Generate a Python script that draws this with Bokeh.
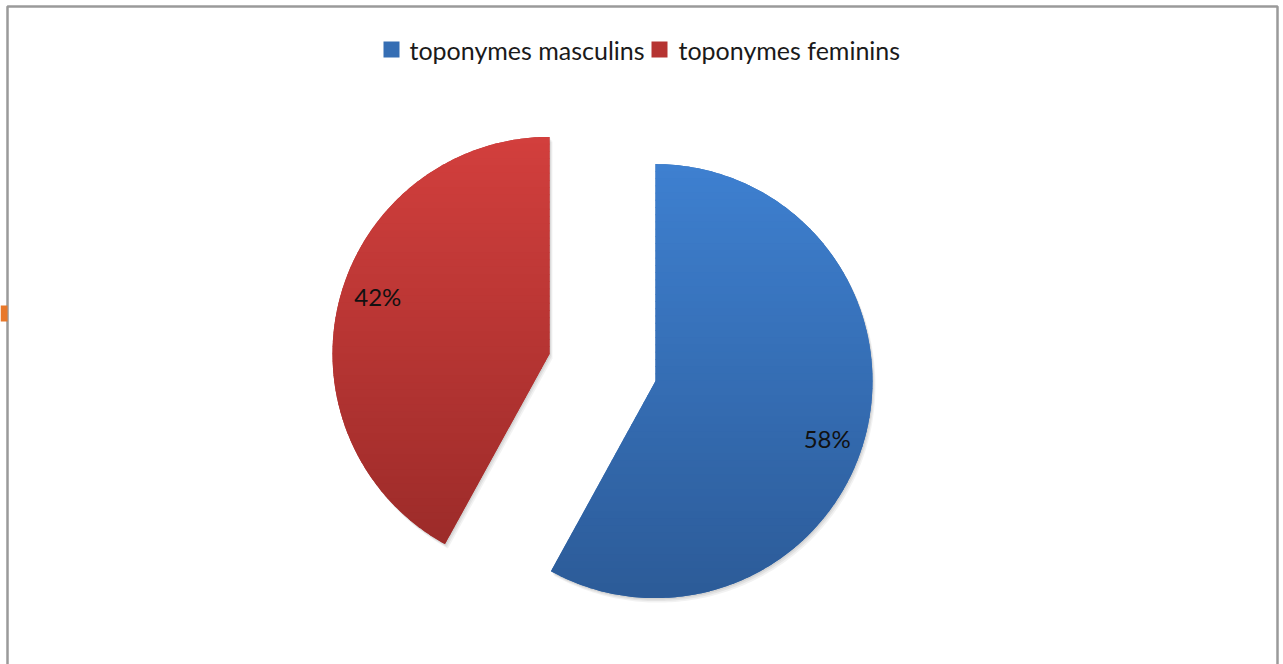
import numpy as np
from bokeh.plotting import figure
from bokeh.models import Range1d
from bokeh.core.properties import value
from bokeh.embed import file_html
from bokeh.resources import INLINE

# ---- data ----
categories = ["toponymes masculins", "toponymes feminins"]
shares = [58, 42]
pct_labels = ["58%", "42%"]
top_colors = ["#3e80d0", "#d23f3d"]
bottom_colors = ["#2c5b98", "#992a28"]

# ---- style / layout ----
W, H = 1283, 664
ORIGIN = (602.0, H - 367.0)
R = 217.0
EXPLODE = 54.7
LABEL_R = 181.0
FONT = "Lato"

p = figure(width=W, height=H, x_range=Range1d(0, W), y_range=Range1d(0, H),
           output_backend="svg", toolbar_location=None, min_border=0)
p.axis.visible = False
p.grid.visible = False
p.outline_line_color = None
p.background_fill_color = "white"
p.border_fill_color = "white"


def hex2rgb(h):
    h = h.lstrip("#")
    return np.array([int(h[i:i + 2], 16) for i in (0, 2, 4)], dtype=float)


def rgb2hex(c):
    return "#%02x%02x%02x" % tuple(int(round(v)) for v in c)


def clip(poly, yv, keep_below):
    out = []
    n = len(poly)
    inside = (lambda pt: pt[1] <= yv) if keep_below else (lambda pt: pt[1] >= yv)
    for i in range(n):
        P, Q = poly[i - 1], poly[i]
        ip, iq = inside(P), inside(Q)
        if iq:
            if not ip:
                t = (yv - P[1]) / (Q[1] - P[1])
                out.append((P[0] + t * (Q[0] - P[0]), yv))
            out.append(Q)
        elif ip:
            t = (yv - P[1]) / (Q[1] - P[1])
            out.append((P[0] + t * (Q[0] - P[0]), yv))
    return out


total = float(sum(shares))
cum = 0.0
slices = []
for k, s in enumerate(shares):
    a0 = np.pi / 2 - 2 * np.pi * cum / total
    cum += s
    a1 = np.pi / 2 - 2 * np.pi * cum / total
    mid = (a0 + a1) / 2
    cx = ORIGIN[0] + EXPLODE * np.cos(mid)
    cy = ORIGIN[1] + EXPLODE * np.sin(mid)
    angs = np.linspace(a0, a1, 240)
    poly = [(cx, cy)] + [(cx + R * np.cos(a), cy + R * np.sin(a)) for a in angs]
    slices.append((k, cx, cy, mid, poly))

# soft shadow
for off, alpha in [((1.0, -1.5), 0.07), ((2.0, -3.0), 0.06), ((3.0, -4.5), 0.05)]:
    for k, cx, cy, mid, poly in slices:
        p.patch([q[0] + off[0] for q in poly], [q[1] + off[1] for q in poly],
                fill_color="black", fill_alpha=alpha, line_color=None)

# slices with vertical gradient
NB = 60
for k, cx, cy, mid, poly in slices:
    ctop, cbot = hex2rgb(top_colors[k]), hex2rgb(bottom_colors[k])
    base = rgb2hex((ctop + cbot) / 2)
    p.patch([q[0] for q in poly], [q[1] for q in poly], fill_color=base, line_color=None)
    ymax, ymin = cy + R, cy - R
    xs, ys, cols = [], [], []
    for j in range(NB):
        yhi = ymax - j * (ymax - ymin) / NB + 0.4
        ylo = ymax - (j + 1) * (ymax - ymin) / NB - 0.4
        b = clip(poly, yhi, True)
        if len(b) < 3:
            continue
        b = clip(b, ylo, False)
        if len(b) < 3:
            continue
        t = (j + 0.5) / NB
        xs.append([q[0] for q in b])
        ys.append([q[1] for q in b])
        cols.append(rgb2hex(ctop + (cbot - ctop) * t))
    p.patches(xs, ys, fill_color=cols, line_color=None)

# percentage labels
lx, ly = [], []
for k, cx, cy, mid, poly in slices:
    a = mid - np.radians(4)
    lx.append(cx + LABEL_R * np.cos(a))
    ly.append(cy + LABEL_R * np.sin(a))
p.text(lx, ly, text=pct_labels, text_align="center", text_baseline="middle",
       text_font=value(FONT), text_font_size="24px", text_color="#111111")

# legend
leg_sq_x = [391, 659]
leg_tx = [409, 678]
leg_y = H - 49
p.rect(leg_sq_x, [leg_y] * 2, width=16, height=16,
       fill_color=[rgb2hex((hex2rgb(a) + hex2rgb(b)) / 2) for a, b in zip(top_colors, bottom_colors)],
       line_color=None)
p.text(leg_tx, [leg_y] * 2, text=categories, text_align="left", text_baseline="middle",
       text_font=value(FONT), text_font_size="25px", text_color="#1a1a1a")

# chart frame and slide mark
p.line([7, 7, 1277, 1277], [0, H - 6, H - 6, 0], line_color="#9a9a9a", line_width=2.5)
p.quad(left=0, right=7, top=H - 305, bottom=H - 321, fill_color="#e8782a", line_color=None)

open("out.html", "w").write(file_html(p, INLINE))
